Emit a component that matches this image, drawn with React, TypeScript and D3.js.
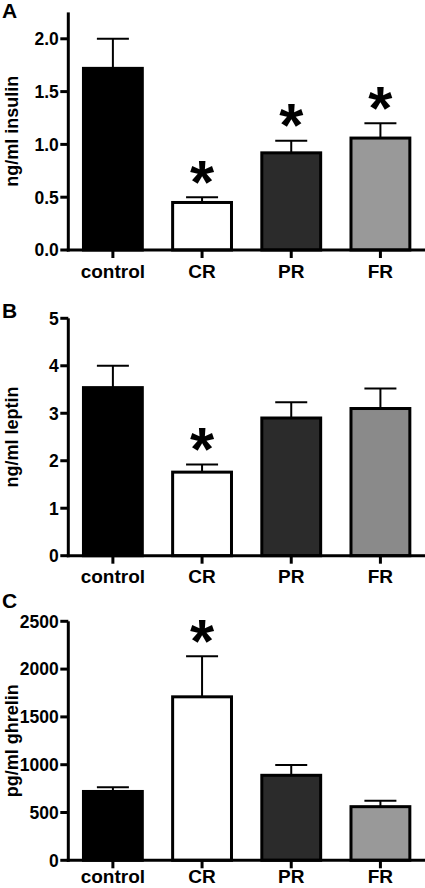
import React from "react";
import * as d3 from "d3";

const categories = ["control", "CR", "PR", "FR"];

const insulinMean = [1.72, 0.45, 0.92, 1.06];
const insulinSem = [0.28, 0.05, 0.115, 0.14];
const insulinSig = [false, true, true, true];
const insulinTicks = [0, 0.5, 1.0, 1.5, 2.0];
const insulinTickLabels = ["0.0", "0.5", "1.0", "1.5", "2.0"];

const leptinMean = [3.54, 1.76, 2.9, 3.1];
const leptinSem = [0.46, 0.16, 0.33, 0.42];
const leptinSig = [false, true, false, false];
const leptinTicks = [0, 1, 2, 3, 4, 5];
const leptinTickLabels = ["0", "1", "2", "3", "4", "5"];

const ghrelinMean = [720, 1710, 889, 561];
const ghrelinSem = [45, 425, 108, 62];
const ghrelinSig = [false, true, false, false];
const ghrelinTicks = [0, 500, 1000, 1500, 2000, 2500];
const ghrelinTickLabels = ["0", "500", "1000", "1500", "2000", "2500"];

const FONT = "'Liberation Sans', Arial, Helvetica, sans-serif";
const W = 425;
const H = 888;
const AXIS_X = 68.3;
const STAR = 62;

type PanelProps = {
  letter: string;
  yLabel: string;
  means: number[];
  sems: number[];
  sig: boolean[];
  ticks: number[];
  tickLabels: string[];
  yMax: number;
  top: number;
  bottom: number;
  letterY: number;
  labelDy: number;
  fills: string[];
};

function Panel(p: PanelProps) {
  const x = d3.scaleBand<string>().domain(categories).range([AXIS_X, W]).padding(0);
  const y = d3.scaleLinear().domain([0, p.yMax]).range([p.bottom, p.top]);
  const bw = x.bandwidth() * 0.66;
  const capHalf = 16;
  return (
    <g>
      <text x={2} y={p.letterY} fontFamily={FONT} fontWeight="bold" fontSize={21}>
        {p.letter}
      </text>
      <text
        transform={`translate(${17.5},${(p.top + p.bottom) / 2}) rotate(-90)`}
        textAnchor="middle"
        fontFamily={FONT}
        fontWeight="bold"
        fontSize={18}
      >
        {p.yLabel}
      </text>
      {categories.map((c, i) => {
        const cx = (x(c) as number) + x.bandwidth() / 2;
        const yTop = y(p.means[i]);
        const yErr = y(p.means[i] + p.sems[i]);
        return (
          <g key={c}>
            <line x1={cx} x2={cx} y1={yTop} y2={yErr} stroke="#000" strokeWidth={2} />
            <line x1={cx - capHalf} x2={cx + capHalf} y1={yErr} y2={yErr} stroke="#000" strokeWidth={2} />
            <rect
              x={cx - bw / 2}
              y={yTop}
              width={bw}
              height={p.bottom - yTop}
              fill={p.fills[i]}
              stroke="#000"
              strokeWidth={3}
            />
            {p.sig[i] && (
              <text
                x={cx}
                y={yErr - 24 + 0.48 * STAR}
                textAnchor="middle"
                fontFamily={FONT}
                fontWeight="bold"
                fontSize={STAR}
              >
                *
              </text>
            )}
            <line x1={cx} x2={cx} y1={p.bottom} y2={p.bottom + 8} stroke="#000" strokeWidth={3} />
            <text
              x={cx}
              y={p.bottom + p.labelDy}
              textAnchor="middle"
              fontFamily={FONT}
              fontWeight="bold"
              fontSize={19}
            >
              {c}
            </text>
          </g>
        );
      })}
      <line x1={AXIS_X} x2={AXIS_X} y1={p.top} y2={p.bottom + 1.5} stroke="#000" strokeWidth={3} />
      {p.ticks.map((t, i) => (
        <g key={t}>
          <line x1={AXIS_X - 8} x2={AXIS_X} y1={y(t)} y2={y(t)} stroke="#000" strokeWidth={3} />
          <text
            x={AXIS_X - 9.5}
            y={y(t)}
            dy="0.36em"
            textAnchor="end"
            fontFamily={FONT}
            fontWeight="bold"
            fontSize={17.5}
          >
            {p.tickLabels[i]}
          </text>
        </g>
      ))}
      <line x1={AXIS_X - 1.5} x2={W} y1={p.bottom} y2={p.bottom} stroke="#000" strokeWidth={3} />
    </g>
  );
}

export default function App() {
  return (
    <svg
      width={W}
      height={H}
      viewBox={`0 0 ${W} ${H}`}
      style={{ position: "absolute", left: 0, top: 0, background: "#fff" }}
    >
      <rect x={0} y={0} width={W} height={H} fill="#fff" />
      <Panel
        letter="A"
        yLabel="ng/ml insulin"
        means={insulinMean}
        sems={insulinSem}
        sig={insulinSig}
        ticks={insulinTicks}
        tickLabels={insulinTickLabels}
        yMax={2.25}
        top={12.4}
        bottom={250}
        letterY={18}
        labelDy={27.5}
        fills={["#000000", "#ffffff", "#2b2b2b", "#999999"]}
      />
      <Panel
        letter="B"
        yLabel="ng/ml leptin"
        means={leptinMean}
        sems={leptinSem}
        sig={leptinSig}
        ticks={leptinTicks}
        tickLabels={leptinTickLabels}
        yMax={5}
        top={318.3}
        bottom={555.7}
        letterY={318}
        labelDy={27.5}
        fills={["#000000", "#ffffff", "#2b2b2b", "#8a8a8a"]}
      />
      <Panel
        letter="C"
        yLabel="pg/ml ghrelin"
        means={ghrelinMean}
        sems={ghrelinSem}
        sig={ghrelinSig}
        ticks={ghrelinTicks}
        tickLabels={ghrelinTickLabels}
        yMax={2500}
        top={621.3}
        bottom={860.3}
        letterY={608}
        labelDy={22.5}
        fills={["#000000", "#ffffff", "#2b2b2b", "#999999"]}
      />
    </svg>
  );
}
